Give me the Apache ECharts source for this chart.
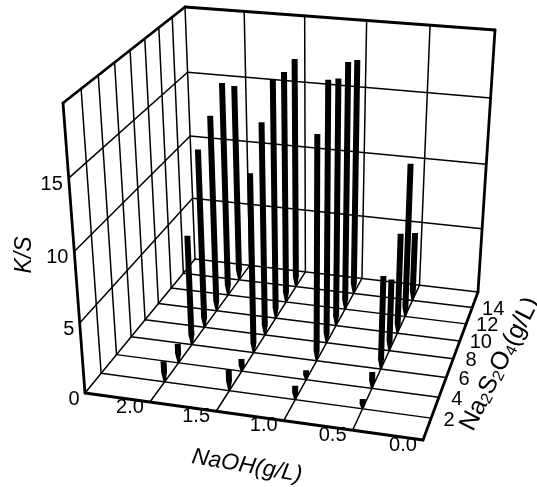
<!DOCTYPE html>
<html>
<head>
<meta charset="utf-8">
<script src="https://cdn.jsdelivr.net/npm/echarts@6/dist/echarts.min.js"></script>
<style>html,body{margin:0;padding:0;background:#fff}#main{width:537px;height:487px}</style>
</head>
<body>
<div id="main"></div>
<script type="text/javascript">
var naohTicks = [2.0, 1.5, 1.0, 0.5, 0.0];
var s2o4Ticks = [2, 4, 6, 8, 10, 12, 14];
var ksTicks = [0, 5, 10, 15];

// K/S at Na2S2O4 = 2,4,...,14 for each NaOH level
var ksNaoh20 = [1.5, 1.4, 8.1, 13.3, 14.8, 16.3, 15.2];
var ksNaoh15 = [1.5, 0.9, 13.1, 15.7, 17.8, 17.5, 17.6];
var ksNaoh10 = [1.0, 0.7, 16.3, 19.1, 18.3, 18.6, 17.9];
var ksNaoh05 = [0.7, 1.2, 6.8, 5.3, 7.5, 11.6, 5.3];

// axis ranges of the box
var naohMax = 2.5, s2o4Max = 16, ksMax = 20;

// box corners on screen: [naoh max, s 0], [naoh 0, s 0], [naoh 0, s max], [naoh max, s max]
var floorCorners = [[85, 393], [423, 440], [478, 292], [195, 259]];
var ceilCorners = [[63, 103], [437.5, 138.6], [495, 30], [185, 7]];
var zPersp = 0.953;

// unit square -> quad
function quadMap(q) {
    var x0 = q[0][0], y0 = q[0][1], x1 = q[1][0], y1 = q[1][1];
    var x2 = q[2][0], y2 = q[2][1], x3 = q[3][0], y3 = q[3][1];
    var dx1 = x1 - x2, dx2 = x3 - x2, sx = x0 - x1 + x2 - x3;
    var dy1 = y1 - y2, dy2 = y3 - y2, sy = y0 - y1 + y2 - y3;
    var den = dx1 * dy2 - dx2 * dy1;
    var g = (sx * dy2 - dx2 * sy) / den;
    var h = (dx1 * sy - sx * dy1) / den;
    var a = x1 - x0 + g * x1, b = x3 - x0 + h * x3;
    var d = y1 - y0 + g * y1, e = y3 - y0 + h * y3;
    return function (u, v) {
        var w = g * u + h * v + 1;
        return [(a * u + b * v + x0) / w, (d * u + e * v + y0) / w];
    };
}
var floorMap = quadMap(floorCorners);
var ceilMap = quadMap(ceilCorners);

function project(naoh, s, ks) {
    var u = 1 - naoh / naohMax, v = s / s2o4Max, k = ks / ksMax;
    var f = floorMap(u, v), c = ceilMap(u, v);
    var t = zPersp * k / (1 + (zPersp - 1) * k);
    return [f[0] + (c[0] - f[0]) * t, f[1] + (c[1] - f[1]) * t];
}

// bars
var barData = [];
[[2.0, ksNaoh20], [1.5, ksNaoh15], [1.0, ksNaoh10], [0.5, ksNaoh05]].forEach(function (row) {
    row[1].forEach(function (v, i) {
        barData.push([row[0], s2o4Ticks[i], v]);
    });
});

// box lines: [naoh,s,ks, naoh,s,ks, width]
var thin = 1.5, thick = 2.8;
var boxLines = [];
s2o4Ticks.forEach(function (s) {
    boxLines.push([naohMax, s, 0, 0, s, 0, thin]);
    boxLines.push([naohMax, s, 0, naohMax, s, ksMax, thin]);
});
naohTicks.slice(0, 4).forEach(function (n) {
    boxLines.push([n, 0, 0, n, s2o4Max, 0, thin]);
    boxLines.push([n, s2o4Max, 0, n, s2o4Max, ksMax, thin]);
});
ksTicks.slice(1).forEach(function (k) {
    boxLines.push([naohMax, 0, k, naohMax, s2o4Max, k, thin]);
    boxLines.push([naohMax, s2o4Max, k, 0, s2o4Max, k, thin]);
});
boxLines.push([naohMax, 0, 0, naohMax, s2o4Max, 0, thin]);
boxLines.push([naohMax, s2o4Max, 0, 0, s2o4Max, 0, thin]);
boxLines.push([naohMax, s2o4Max, 0, naohMax, s2o4Max, ksMax, thin]);
boxLines.push([naohMax, 0, 0, 0, 0, 0, thick]);
boxLines.push([0, 0, 0, 0, s2o4Max, 0, thick]);
boxLines.push([naohMax, 0, 0, naohMax, 0, ksMax, thick]);
boxLines.push([0, s2o4Max, 0, 0, s2o4Max, ksMax, thick]);
boxLines.push([naohMax, 0, ksMax, naohMax, s2o4Max, ksMax, thick]);
boxLines.push([naohMax, s2o4Max, ksMax, 0, s2o4Max, ksMax, thick]);

// text: [string, anchor on screen, rotation]
var tickFont = '20px "Liberation Sans"';
var labels = [];
naohTicks.forEach(function (n) {
    var p = project(n, 0, 0);
    labels.push({ text: n.toFixed(1), x: p[0] - 20, y: p[1] + 5, font: tickFont });
});
s2o4Ticks.forEach(function (s) {
    var p = project(0, s, 0);
    labels.push({ text: String(s), x: p[0] + (s > 8 ? 21 : 18), y: p[1] + 2, font: tickFont });
});
ksTicks.forEach(function (k) {
    var p = project(naohMax, 0, k);
    labels.push({ text: String(k), x: p[0] - (k > 5 ? 17 : 11), y: p[1] + 6, font: tickFont });
});
labels.push({ text: 'K/S', x: 25, y: 255, rotation: Math.PI / 2, font: 'italic 23px "Liberation Sans"' });
labels.push({ text: 'NaOH(g/L)', x: 247, y: 466, rotation: -0.17, font: 'italic 23px "Liberation Sans"' });
labels.push({
    text: '{m|Na}{s|2}{m|S}{s|2}{m|O}{s|4}{m|(g/L)}', x: 500, y: 364, rotation: 1.1,
    rich: {
        m: { font: 'normal 25px "Liberation Sans"', fill: '#000' },
        s: { font: 'normal 16px "Liberation Sans"', fill: '#000', padding: [9, 0, 0, 0] }
    }
});

var myChart = echarts.init(document.getElementById('main'));
myChart.setOption({
    animation: false,
    backgroundColor: '#fff',
    grid: { left: 0, right: 0, top: 0, bottom: 0 },
    xAxis: { type: 'value', min: 0, max: 537, show: false },
    yAxis: { type: 'value', min: 0, max: 487, inverse: true, show: false },
    series: [
        {
            type: 'custom',
            silent: true,
            clip: false,
            data: boxLines,
            encode: { x: 0, y: 1 },
            renderItem: function (params, api) {
                var a = api.coord(project(api.value(0), api.value(1), api.value(2)));
                var b = api.coord(project(api.value(3), api.value(4), api.value(5)));
                return {
                    type: 'line',
                    shape: { x1: a[0], y1: a[1], x2: b[0], y2: b[1] },
                    style: { stroke: '#000', lineWidth: api.value(6), lineCap: 'round', fill: null }
                };
            }
        },
        {
            type: 'custom',
            silent: true,
            clip: false,
            data: barData,
            encode: { x: 0, y: 1 },
            renderItem: function (params, api) {
                var n = api.value(0), s = api.value(1);
                var a = api.coord(project(n, s, 0));
                var b = api.coord(project(n, s, api.value(2)));
                // thick stem that narrows to a point near the floor
                var len = a[1] - b[1];
                var taper = Math.min(10, len * 0.5);
                var f = taper / len;
                var mx = a[0] + (b[0] - a[0]) * f, my = a[1] + (b[1] - a[1]) * f;
                return {
                    type: 'polygon',
                    shape: {
                        points: [
                            [b[0] - 3, b[1]], [b[0] + 3, b[1]],
                            [mx + 3, my], [a[0] + 1, a[1]],
                            [a[0] - 1, a[1]], [mx - 3, my]
                        ]
                    },
                    style: { fill: '#000' }
                };
            }
        },
        {
            type: 'custom',
            silent: true,
            clip: false,
            data: labels.map(function (l, i) { return [i, i]; }),
            encode: { x: 0, y: 1 },
            renderItem: function (params, api) {
                var l = labels[params.dataIndex];
                var p = api.coord([l.x, l.y]);
                return {
                    type: 'text',
                    x: p[0],
                    y: p[1],
                    rotation: l.rotation || 0,
                    style: {
                        text: l.text,
                        font: l.font,
                        rich: l.rich,
                        fill: '#000',
                        textAlign: 'center',
                        textVerticalAlign: 'middle'
                    }
                };
            }
        }
    ]
});
</script>
</body>
</html>
